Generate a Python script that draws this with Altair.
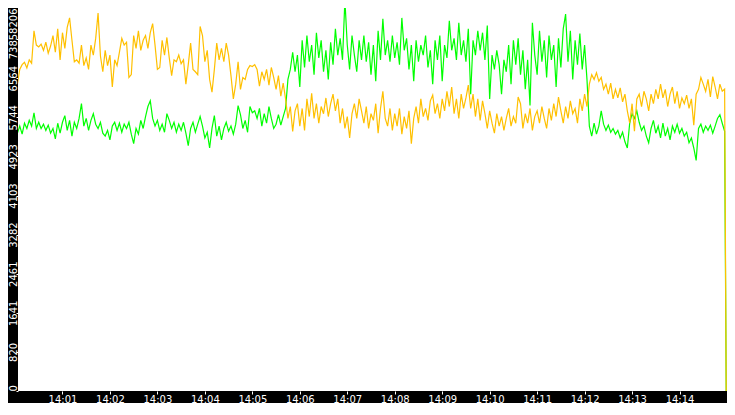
import altair as alt
import pandas as pd

# ---- data (one sample every 3 s, 14:00:00 .. 14:14:57, then 14:14:59) ----
orange_values = [
    5900, 6440, 6750, 6850, 6900, 6780, 6950, 6880, 7560, 7260,
    7220, 7280, 7150, 7320, 7090, 7240, 7460, 7110, 7600, 6950,
    7520, 7190, 7630, 7830, 7360, 6910, 6950, 6880, 7260, 6830,
    6990, 6750, 7260, 7050, 7400, 7930, 7030, 6700, 7150, 6830,
    7050, 6380, 6950, 6830, 7110, 7400, 7260, 7320, 6580, 6640,
    7460, 7190, 7560, 7150, 7360, 7460, 7190, 7520, 7710, 7260,
    6750, 6790, 7360, 7050, 7420, 6990, 6620, 6950, 6910, 7050,
    6870, 6950, 6440, 6850, 7300, 6750, 6700, 6640, 7650, 7460,
    6910, 7150, 6540, 6270, 6750, 7300, 6950, 7190, 6910, 7300,
    7050, 6620, 6130, 6440, 6910, 6330, 6580, 6540, 6750, 6830,
    6810, 6850, 6750, 6400, 6700, 6540, 6750, 6420, 6790, 6580,
    6330, 6620, 6190, 6460, 6130, 5720, 5970, 5450, 5880, 6030,
    5560, 5930, 5470, 6130, 5760, 6250, 5720, 6030, 5620, 5970,
    5820, 6150, 5760, 6030, 6230, 5880, 6130, 5620, 5930, 5510,
    5760, 5310, 5820, 6030, 5720, 6130, 5880, 5620, 5970, 5510,
    5820, 5680, 6030, 5410, 5930, 6290, 5720, 5560, 5930, 5470,
    5820, 5560, 5930, 5390, 5760, 5510, 5880, 5190, 5720, 5970,
    5620, 6130, 5760, 5930, 5680, 6090, 6210, 5820, 6030, 5720,
    6130, 5880, 6290, 5970, 6380, 5820, 6130, 5720, 6230, 5930,
    6150, 6420, 5930, 6230, 5760, 6130, 5680, 6090, 5820, 5510,
    5880, 5620, 5410, 5820, 5560, 5760, 5470, 5720, 5930, 5560,
    5760, 5620, 6170, 6030, 5510, 5820, 5620, 5930, 5470, 5760,
    5880, 5620, 5970, 5720, 5510, 5930, 5680, 6030, 5760, 6170,
    5880, 5620, 5970, 5720, 6090, 5820, 5930, 5620, 6130, 5880,
    6230, 5970, 6440, 6640, 6540, 6680, 6500, 6580, 6330, 6440,
    6230, 6460, 6130, 6330, 6150, 6360, 6070, 6230, 5880, 5620,
    6030, 5450, 6130, 6230, 5970, 6290, 6130, 5880, 6230, 6030,
    6330, 6130, 6440, 6150, 6330, 5970, 6230, 6380, 6030, 6290,
    5930, 6150, 6030, 6210, 5930, 6130, 5580, 6230, 6330, 6580,
    6440, 6290, 6540, 6170, 6600, 6380, 6130, 6440, 6290, 6335,
    0,
]

green_values = [
    4650, 5410, 5560, 5390, 5620, 5510, 5680, 5560, 5840, 5510,
    5640, 5510, 5600, 5470, 5580, 5410, 5510, 5290, 5620, 5410,
    5640, 5780, 5470, 5680, 5350, 5640, 5510, 5720, 6030, 5560,
    5720, 5470, 5680, 5820, 5600, 5510, 5640, 5410, 5350, 5470,
    5270, 5560, 5640, 5470, 5620, 5430, 5600, 5510, 5640, 5390,
    5190, 5510, 5390, 5680, 5510, 5760, 5970, 6090, 5720, 5560,
    5680, 5470, 5600, 5430, 5820, 5680, 5510, 5640, 5430, 5600,
    5470, 5640, 5410, 5150, 5510, 5640, 5430, 5600, 5760, 5560,
    5310, 5430, 5100, 5510, 5780, 5350, 5560, 5270, 5510, 5640,
    5450, 5560, 5390, 5600, 5990, 5800, 5510, 5680, 5430, 5970,
    5840, 5880, 5720, 5930, 5560, 5820, 5620, 5970, 5720, 5510,
    5600, 5800, 5580, 5760, 5930, 6540, 6750, 7110, 6700, 7050,
    6380, 7360, 6790, 7460, 6910, 7260, 6640, 7520, 6990, 7360,
    6700, 7150, 6540, 7320, 6850, 7600, 7050, 7400, 6950, 8206,
    7260, 6750, 7460, 7050, 6700, 7360, 6950, 7460, 6910, 7320,
    6640, 7260, 6500, 7560, 6950, 7810, 7050, 7360, 6910, 7460,
    6990, 7320, 6850, 7830, 7150, 7400, 6750, 7260, 6500, 7360,
    6910, 7260, 7050, 7460, 6790, 7150, 6440, 7360, 6950, 7460,
    6500, 7260, 6990, 7770, 7150, 7400, 6950, 7730, 7050, 7360,
    6910, 7600, 6230, 7360, 7050, 7560, 7150, 7520, 6950, 7670,
    6130, 7050, 6750, 7150, 6850, 6230, 6950, 6700, 7260, 6440,
    7360, 6850, 7400, 6640, 7150, 6335, 6950, 5990, 7730, 7050,
    6640, 7560, 6910, 7360, 6580, 7460, 6950, 7260, 6380, 7400,
    6790, 7600, 7910, 6910, 7560, 6540, 7360, 6850, 7500, 6750,
    7260, 6540, 5560, 5350, 5620, 5390, 5560, 5880, 5600, 5470,
    5580, 5430, 5510, 5390, 5470, 5310, 5430, 5230, 5100, 5620,
    5820, 5720, 5880, 5640, 5470, 5560, 5350, 5210, 5510, 5680,
    5410, 5560, 5310, 5620, 5350, 5510, 5270, 5560, 5430, 5600,
    5410, 5510, 5350, 5430, 5210, 5310, 5100, 4840, 5510, 5600,
    5430, 5560, 5470, 5580, 5410, 5560, 5720, 5800, 5620, 5450,
    0,
]

y_tick_values = [0, 820.6, 1641.2, 2461.8, 3282.4, 4103.0, 4923.6, 5744.2, 6564.8, 7385.4, 8206.0]
x_tick_labels = ["14:01", "14:02", "14:03", "14:04", "14:05", "14:06", "14:07",
                 "14:08", "14:09", "14:10", "14:11", "14:12", "14:13", "14:14"]

start = pd.Timestamp("2024-01-01 14:00:00")
times = [start + pd.Timedelta(seconds=3 * i) for i in range(300)] + [start + pd.Timedelta(seconds=899)]

green_df = pd.DataFrame({"time": times, "value": green_values})
orange_df = pd.DataFrame({"time": times, "value": orange_values})


def dt(label):
    h, m = label.split(":")
    return alt.DateTime(year=2024, month=1, date=1, hours=int(h), minutes=int(m))


PLOT_W, PLOT_H = 709, 383

x_enc = alt.X(
    "time:T",
    scale=alt.Scale(domain=[dt("14:00"), dt("14:15")], range=[-3, PLOT_W]),
    axis=alt.Axis(
        values=[dt(l) for l in x_tick_labels],
        format="%H:%M",
        labelColor="white",
        labelFont="DejaVu Sans",
        labelFontSize=10,
        tickColor="white",
        tickSize=3,
        tickWidth=1,
        labelPadding=0,
        domain=False,
        grid=False,
        title=None,
        labelFlush=False,
        labelOverlap=False,
    ),
)

y_enc = alt.Y(
    "value:Q",
    scale=alt.Scale(domain=[0, 8206], range=[PLOT_H, -8], nice=False, zero=True),
    axis=alt.Axis(
        values=y_tick_values,
        labelExpr="floor(datum.value)",
        labelAngle=270,
        labelAlign={
            "condition": [
                {"test": "datum.value == 0", "value": "left"},
                {"test": "datum.value > 8000", "value": "right"},
            ],
            "value": "center",
        },
        labelOffset={
            "condition": [
                {"test": "datum.value > 8000", "value": 8},
                {"test": "datum.value > 7000 && datum.value < 8000", "value": 7},
            ],
            "value": 0,
        },
        labelBaseline="alphabetic",
        labelColor="white",
        labelFont="DejaVu Sans",
        labelFontSize=10,
        tickColor="white",
        tickSize=2,
        tickWidth=1,
        labelPadding=0,
        domain=False,
        grid=False,
        title=None,
        labelOverlap=False,
        labelFlush=False,
    ),
)

green_line = alt.Chart(green_df).mark_line(color="#00ff00", strokeWidth=1.2, clip=True).encode(x=x_enc, y=y_enc)
orange_line = alt.Chart(orange_df).mark_line(color="#ffc000", strokeWidth=1.2, clip=True).encode(x=x_enc, y=y_enc)

chart = (
    alt.layer(green_line, orange_line)
    .properties(
        width=PLOT_W,
        height=PLOT_H,
        padding={"left": 10, "top": 0, "right": 0, "bottom": 12},
        autosize=alt.AutoSizeParams(type="none"),
        background="black",
    )
    .configure_view(fill="white", strokeWidth=0)
)

chart.save("out.html", embed_options={"renderer": "svg", "actions": False})
